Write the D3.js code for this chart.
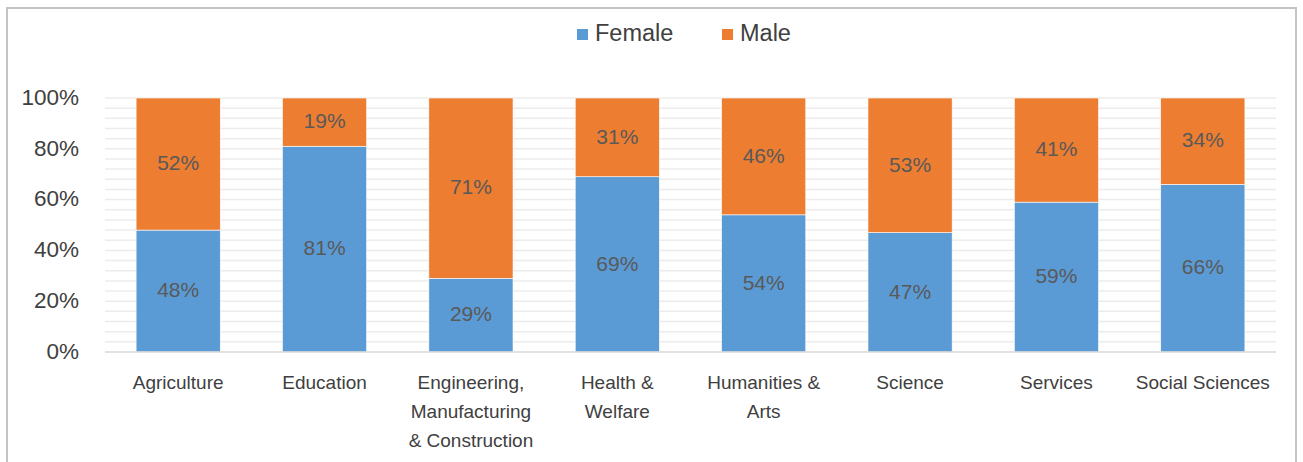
<!DOCTYPE html>
<html><head><meta charset="utf-8">
<script src="https://cdn.jsdelivr.net/npm/d3@7"></script>
<style>body{margin:0;background:#fff;} text{font-family:"Liberation Sans",Arial,sans-serif;}</style>
</head><body>
<svg id="c" width="1303" height="462"></svg>
<script>
const categories = [["Agriculture"],["Education"],["Engineering,","Manufacturing","& Construction"],["Health &","Welfare"],["Humanities &","Arts"],["Science"],["Services"],["Social Sciences"]];
const female = [48,81,29,69,54,47,59,66];
const male = [52,19,71,31,46,53,41,34];
const seriesNames = ["Female","Male"];
const colors = ["#5B9BD5","#ED7D31"];
const yTicks = [0,20,40,60,80,100];

const svg = d3.select("#c");
svg.append("rect").attr("x",7).attr("y",8).attr("width",1289).attr("height",470).attr("fill","none").attr("stroke","#c4c4c4").attr("stroke-width",2);

const pL=105, pR=1276, pT=98, pB=352;
const x = d3.scaleBand().domain(d3.range(categories.length)).range([pL,pR]).paddingInner(0.425).paddingOuter(0.2125);
const y = d3.scaleLinear().domain([0,100]).range([pB,pT]);

// minor gridlines every 4%
svg.append("g").selectAll("line").data(d3.range(4,101,4)).join("line")
  .attr("x1",pL).attr("x2",pR).attr("y1",d=>y(d)).attr("y2",d=>y(d))
  .attr("stroke","#ececec").attr("stroke-width",1.5);

const rows = categories.map((c,i)=>({i, Female:female[i], Male:male[i]}));
const stack = d3.stack().keys(seriesNames)(rows);
const g = svg.append("g");
stack.forEach((s,si)=>{
  g.selectAll(null).data(s).join("rect")
    .attr("x",d=>x(d.data.i)).attr("width",x.bandwidth())
    .attr("y",d=>y(d[1])).attr("height",d=>y(d[0])-y(d[1]))
    .attr("fill",colors[si]).attr("stroke","#ffffff").attr("stroke-width",0.6);
  g.selectAll(null).data(s).join("text")
    .attr("x",d=>x(d.data.i)+x.bandwidth()/2).attr("y",d=>y((d[0]+d[1])/2))
    .attr("dy","0.3em").attr("text-anchor","middle").attr("font-size",21)
    .attr("fill","#595959").text(d=>(d[1]-d[0])+"%");
});

// baseline
svg.append("line").attr("x1",pL).attr("x2",pR).attr("y1",pB).attr("y2",pB).attr("stroke","#d9d9d9").attr("stroke-width",1.5);

// y axis
const ya = svg.append("g").attr("transform",`translate(${pL-23},-1)`)
  .call(d3.axisLeft(y).tickValues(yTicks).tickFormat(d=>d+"%").tickSize(0));
ya.select(".domain").remove();
ya.selectAll("text").attr("font-size",22.5).attr("fill","#404040").attr("font-family","Liberation Sans, Arial, sans-serif");

// x labels
const xl = svg.append("g");
categories.forEach((lines,i)=>{
  const t = xl.append("text").attr("x",x(i)+x.bandwidth()/2).attr("y",389)
    .attr("text-anchor","middle").attr("font-size",19).attr("fill","#404040");
  lines.forEach((ln,k)=>t.append("tspan").attr("x",x(i)+x.bandwidth()/2).attr("dy",k?29:0).text(ln));
});

// legend
const leg = svg.append("g");
const legX = [577,722];
seriesNames.forEach((n,i)=>{
  leg.append("rect").attr("x",legX[i]).attr("y",29).attr("width",11).attr("height",11).attr("fill",colors[i]);
  leg.append("text").attr("x",legX[i]+18).attr("y",41).attr("font-size",23.5).attr("fill","#404040").text(n);
});
</script>
</body></html>
